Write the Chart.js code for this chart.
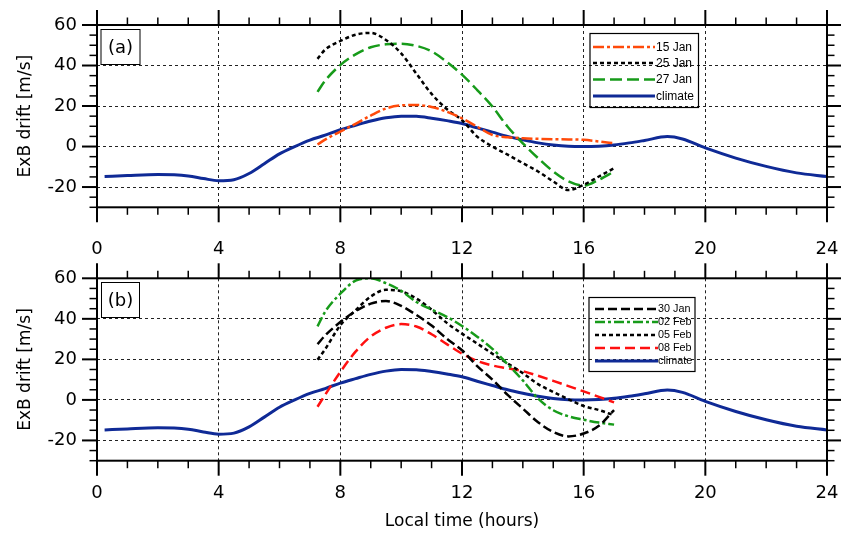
<!DOCTYPE html>
<html>
<head>
<meta charset="utf-8">
<script src="https://cdn.jsdelivr.net/npm/chart.js@4.4.0/dist/chart.umd.min.js"></script>
<style>
html,body{margin:0;padding:0;background:#fff;}
#wrap{position:relative;width:841px;height:533px;background:#fff;}
#wrap canvas{position:absolute;left:0;top:0;}
</style>
</head>
<body>
<div id="wrap">
<canvas id="c1" width="841" height="533"></canvas>
<canvas id="c2" width="841" height="533"></canvas>
</div>
<script>
// ---------- data ----------
const hourTicks = [0, 4, 8, 12, 16, 20, 24];
const driftTicks = [-20, 0, 20, 40, 60];

const climateHours = [0.25, 1, 2, 3, 3.5, 4, 4.5, 5, 5.5, 6, 6.5, 7, 7.5, 8, 8.5, 9, 9.5, 10, 10.5, 11, 11.5, 12, 12.5, 13, 13.5, 14, 14.5, 15, 15.5, 16, 16.5, 17, 17.5, 18, 18.75, 19.25, 20, 21, 22, 23, 24];
const climateDrift = [-14.8, -14.3, -13.8, -14.5, -15.8, -16.9, -16.4, -13.3, -8.5, -3.6, 0, 3.2, 5.6, 8.3, 10.5, 12.6, 14.2, 15.0, 14.9, 14.0, 12.8, 11.4, 9.2, 7.1, 5.0, 3.3, 1.8, 0.7, 0.1, 0, 0.2, 0.8, 1.8, 3.0, 4.9, 3.7, -0.7, -5.7, -9.8, -13.0, -14.8];

const eventHours = [7.25, 7.5, 8, 8.5, 9, 9.5, 10, 10.5, 11, 11.5, 12, 12.5, 13, 13.5, 14, 14.5, 15, 15.5, 16, 16.5, 17];
const jan15 = [1.0, 3.4, 7.4, 11.2, 15.3, 18.8, 20.3, 20.5, 19.5, 17.2, 13.9, 9.8, 5.7, 4.6, 4.1, 3.8, 3.6, 3.5, 3.3, 2.5, 1.6];
const jan25 = [43.3, 47.8, 52.1, 55.2, 56.1, 52.6, 46.0, 36.0, 26.0, 18.5, 13.0, 4.9, 0.0, -4.0, -8.2, -12.3, -17.2, -21.5, -18.9, -14.8, -10.7];
const jan27 = [27.0, 32.5, 40.2, 45.5, 49.0, 50.5, 50.8, 49.7, 47.0, 41.8, 35.5, 27.9, 19.7, 9.8, 1.6, -5.7, -12.3, -17.2, -19.3, -16.4, -12.3];
const jan30 = [27.5, 31.8, 38.4, 43.8, 47.5, 48.8, 46.4, 41.9, 36.7, 30.2, 24.5, 16.7, 10.0, 2.5, -4.3, -11.0, -15.8, -18.0, -16.6, -12.8, -5.0];
const feb02 = [36.3, 43.5, 52.4, 58.8, 60.0, 57.6, 53.8, 48.3, 44.6, 41.0, 36.5, 31.2, 25.2, 17.6, 9.6, 0.7, -5.1, -8.1, -9.8, -11.2, -12.2];
const feb05 = [19.8, 25.0, 36.8, 44.2, 51.0, 54.3, 53.6, 50.0, 44.5, 38.0, 32.7, 27.8, 22.8, 18.0, 13.2, 7.8, 3.9, 0.3, -3.0, -5.0, -7.6];
const feb08 = [-3.4, 2.5, 13.8, 23.8, 31.3, 35.6, 37.4, 36.2, 32.4, 27.5, 22.8, 19.2, 17.0, 15.6, 14.2, 11.9, 9.4, 6.8, 4.2, 1.5, -1.2];

const panelALabels = ['15 Jan', '25 Jan', '27 Jan', 'climate'];
const panelBLabels = ['30 Jan', '02 Feb', '05 Feb', '08 Feb', 'climate'];

// ---------- helpers ----------
function pts(xs, ys) { return xs.map((x, i) => ({ x: x, y: ys[i] })); }
function series(label, hours, vals, color, dash, width) {
  return {
    label: label, data: pts(hours, vals), borderColor: color, backgroundColor: color,
    borderDash: dash, borderWidth: width, pointRadius: 0, pointHoverRadius: 0,
    fill: false, cubicInterpolationMode: 'monotone', borderCapStyle: 'butt'
  };
}
const BLUE = '#0f2a96', GREEN = '#179b1a', ORANGE = '#ff4a0a', RED = '#ff1010', BLACK = '#000000';

const FONT = "'DejaVu Sans', sans-serif";

function zeroPad(s) { s.paddingTop = 0; s.paddingBottom = 0; s.paddingLeft = 0; s.paddingRight = 0; }

const framePlugin = {
  id: 'frameTicks',
  afterDraw(chart) {
    const ctx = chart.ctx, a = chart.chartArea, xs = chart.scales.x, ys = chart.scales.y;
    ctx.save();
    ctx.strokeStyle = '#000';
    ctx.setLineDash([]);
    function seg(x1, y1, x2, y2, w) { ctx.lineWidth = w; ctx.beginPath(); ctx.moveTo(x1, y1); ctx.lineTo(x2, y2); ctx.stroke(); }
    for (let h = 0; h <= 24; h++) {
      const px = xs.getPixelForValue(h);
      const major = hourTicks.includes(h);
      const len = major ? 15 : 7.5, w = major ? 2 : 1.5;
      seg(px, a.bottom, px, a.bottom + len, w);
      seg(px, a.top, px, a.top - len, w);
    }
    for (let v = -30; v <= 60; v += 5) {
      const py = ys.getPixelForValue(v);
      const major = driftTicks.includes(v);
      const len = major ? 15 : 7.5, w = major ? 2 : 1.5;
      seg(a.left, py, a.left - len, py, w);
      seg(a.right, py, a.right + len, py, w);
    }
    ctx.lineWidth = 2;
    ctx.strokeRect(a.left, a.top, a.right - a.left, a.bottom - a.top);
    ctx.restore();
  }
};

const boxLegendPlugin = {
  id: 'boxLegend',
  afterDraw(chart, args, o) {
    const ctx = chart.ctx;
    ctx.save();
    ctx.setLineDash([]);
    ctx.strokeStyle = '#000'; ctx.lineWidth = 1;
    ctx.strokeRect(o.tag.x, o.tag.y, o.tag.w, o.tag.h);
    ctx.fillStyle = '#000';
    ctx.font = '18px ' + FONT;
    ctx.textAlign = 'center'; ctx.textBaseline = 'middle';
    ctx.fillText(o.tag.text, o.tag.x + o.tag.w / 2, o.tag.y + o.tag.h / 2 + 1);
    const L = o.legend;
    ctx.lineWidth = 1.2;
    ctx.strokeRect(L.x, L.y, L.w, L.h);
    ctx.font = L.font + "px 'Liberation Sans', Arial, sans-serif";
    ctx.textAlign = 'left';
    chart.data.datasets.forEach((ds, i) => {
      const yy = L.rows[i];
      ctx.strokeStyle = ds.borderColor;
      ctx.lineWidth = ds.borderWidth;
      ctx.setLineDash(ds.borderDash || []);
      ctx.beginPath(); ctx.moveTo(L.lx1, yy); ctx.lineTo(L.lx2, yy); ctx.stroke();
      ctx.fillStyle = '#000';
      ctx.fillText(ds.label, L.tx, yy + 0.5);
    });
    ctx.restore();
  }
};

function makePanel(canvasId, datasets, opts) {
  return new Chart(document.getElementById(canvasId), {
    type: 'line',
    data: { datasets: datasets },
    plugins: [framePlugin, boxLegendPlugin],
    options: {
      responsive: false,
      animation: false,
      devicePixelRatio: 1,
      layout: { padding: { top: opts.top, right: 14, left: 0, bottom: 0 } },
      plugins: {
        legend: { display: false },
        tooltip: { enabled: false },
        boxLegend: { tag: opts.tag, legend: opts.legend }
      },
      scales: {
        x: {
          type: 'linear', min: 0, max: 24,
          afterBuildTicks: (s) => { s.ticks = hourTicks.map(v => ({ value: v })); },
          afterFit: (s) => { s.height = 533 - opts.bottom; zeroPad(s); },
          grid: {
            drawTicks: false,
            lineWidth: 1,
            color: (c) => (c.tick && c.tick.value > 0 && c.tick.value < 24) ? '#222' : 'rgba(0,0,0,0)'
          },
          border: { display: false, dash: [3, 3] },
          ticks: { padding: opts.xPad, color: '#000', font: { family: FONT, size: 18 }, maxRotation: 0, autoSkip: false },
          title: {
            display: opts.xTitle, text: 'Local time (hours)', color: '#000',
            font: { family: FONT, size: 17 }, padding: { top: 0, bottom: 1 }
          }
        },
        y: {
          type: 'linear', min: -30, max: 60,
          afterBuildTicks: (s) => { s.ticks = driftTicks.map(v => ({ value: v })); },
          afterFit: (s) => { s.width = 97; zeroPad(s); },
          grid: {
            drawTicks: false,
            lineWidth: 1,
            color: (c) => (c.tick && c.tick.value > -30 && c.tick.value < 60) ? '#222' : 'rgba(0,0,0,0)'
          },
          border: { display: false, dash: [3, 3] },
          ticks: { padding: 20, color: '#000', font: { family: FONT, size: 18 }, autoSkip: false },
          title: {
            display: true, text: 'ExB drift [m/s]', color: '#000',
            font: { family: FONT, size: 17 }, padding: { top: 15.5, bottom: 0 }
          }
        }
      }
    }
  });
}

makePanel('c1', [
  series(panelALabels[0], eventHours, jan15, ORANGE, [11, 3, 3, 3], 2.5),
  series(panelALabels[1], eventHours, jan25, BLACK, [4, 3], 2.5),
  series(panelALabels[2], eventHours, jan27, GREEN, [12, 5], 2.5),
  series(panelALabels[3], climateHours, climateDrift, BLUE, [], 3)
], {
  top: 25, bottom: 207.3, xPad: 31, xTitle: false,
  tag: { x: 101, y: 29.5, w: 39, h: 35, text: '(a)' },
  legend: { x: 590, y: 33.5, w: 108.5, h: 74, rows: [47, 63, 79.5, 96], lx1: 593, lx2: 655, tx: 656, font: 12 }
});

makePanel('c2', [
  series(panelBLabels[0], eventHours, jan30, BLACK, [9, 4], 2.5),
  series(panelBLabels[1], eventHours, feb02, GREEN, [10, 3, 3, 3], 2.5),
  series(panelBLabels[2], eventHours, feb05, BLACK, [4, 3], 2.5),
  series(panelBLabels[3], eventHours, feb08, RED, [10, 5], 2.5),
  series(panelBLabels[4], climateHours, climateDrift, BLUE, [], 3)
], {
  top: 278.3, bottom: 460.7, xPad: 21.5, xTitle: true,
  tag: { x: 101.5, y: 282.5, w: 38, h: 35, text: '(b)' },
  legend: { x: 589, y: 297.5, w: 106, h: 74, rows: [309, 322, 335, 348, 361], lx1: 595, lx2: 658, tx: 658, font: 10.8 }
});
</script>
</body>
</html>
